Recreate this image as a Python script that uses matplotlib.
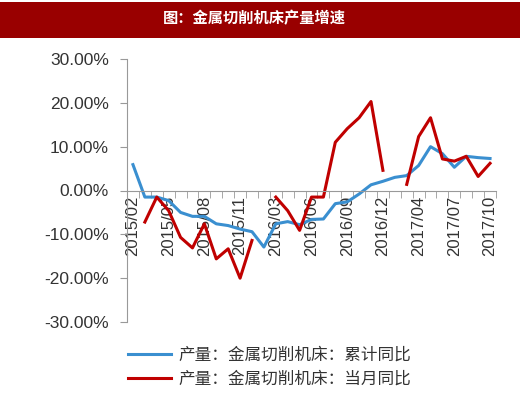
import numpy as np
import matplotlib.pyplot as plt
from matplotlib.patches import Rectangle

plt.rcParams['font.family'] = ['Liberation Sans', 'Noto Sans CJK SC', 'DejaVu Sans']

# 月份（1月数据缺失，与2月合并）
months = (['2015/%02d' % m for m in range(2, 13)] +
          ['2016/%02d' % m for m in range(2, 13)] +
          ['2017/%02d' % m for m in range(2, 11)])

# 累计同比 (%)
cum_yoy = [5.9, -1.5, -1.5, -2.3, -5.0, -5.9, -5.9, -7.6, -8.0, -8.8, -9.4,
           -12.9, -7.6, -7.1, -7.8, -6.6, -6.5, -3.0, -2.6, -0.8, 1.3, 2.1,
           3.0, 3.4, 5.7, 10.0, 8.4, 5.3, 7.8, 7.5, 7.3]

# 当月同比 (%)，缺失月份为 nan
mon_yoy = [np.nan, -7.2, -1.5, -4.6, -10.7, -13.1, -7.6, -15.6, -13.3, -20.0, -11.4,
           np.nan, -1.5, -4.6, -9.1, -1.5, -1.5, 11.0, 14.1, 16.6, 20.3, 4.6,
           np.nan, 1.4, 12.3, 16.6, 7.2, 6.7, 7.8, 3.2, 6.2]

label_idx = list(range(0, len(months), 3))

fig = plt.figure(figsize=(5.2, 3.93), dpi=100)

# 标题栏
fig.patches.append(Rectangle((0, 1 - 38 / 393), 1, 36 / 393, transform=fig.transFigure,
                             facecolor='#990000', edgecolor='none'))
fig.text(0.49, 1 - 18 / 393, '图：金属切削机床产量增速', color='white', fontsize=11,
         fontweight='bold', ha='center', va='center', family='Noto Sans CJK SC')

ax = fig.add_axes([127 / 520, 71 / 393, 369 / 520, 263 / 393])
x = np.arange(len(months))
ax.plot(x, cum_yoy, color='#3A8FD0', lw=2.2, label='产量：金属切削机床：累计同比')
ax.plot(x, mon_yoy, color='#C00000', lw=2.2, label='产量：金属切削机床：当月同比')

ax.set_xlim(-0.5, len(months) - 0.5)
ax.set_ylim(-30, 30)
ax.set_yticks(np.arange(-30, 31, 10))
ax.set_yticklabels(['%.2f%%' % v for v in np.arange(-30, 31, 10)], fontsize=12.5, color='#333333')

ax.spines['top'].set_visible(False)
ax.spines['right'].set_visible(False)
ax.spines['bottom'].set_position(('data', 0))
ax.spines['left'].set_color('#999999')
ax.spines['bottom'].set_color('#999999')

ax.set_xticks(label_idx)
ax.set_xticklabels([months[i] for i in label_idx], rotation=90, fontsize=12, color='#333333')
ax.set_xticks(np.arange(-0.5, len(months), 1), minor=True)
ax.tick_params(axis='x', which='major', length=0, pad=4)
ax.tick_params(axis='x', which='minor', length=5, color='#999999')
ax.tick_params(axis='y', length=5, color='#999999', pad=8)

fig.legend(loc='upper left', bbox_to_anchor=(128 / 520, 1 - 347 / 393), frameon=False,
           prop={'family': 'Noto Sans CJK SC', 'size': 12}, handlelength=2.6,
           handletextpad=0.4, labelspacing=0.4, borderpad=0, borderaxespad=0)
for t in fig.legends[0].get_texts():
    t.set_color('#333333')

fig.savefig('out.png', dpi=100)
